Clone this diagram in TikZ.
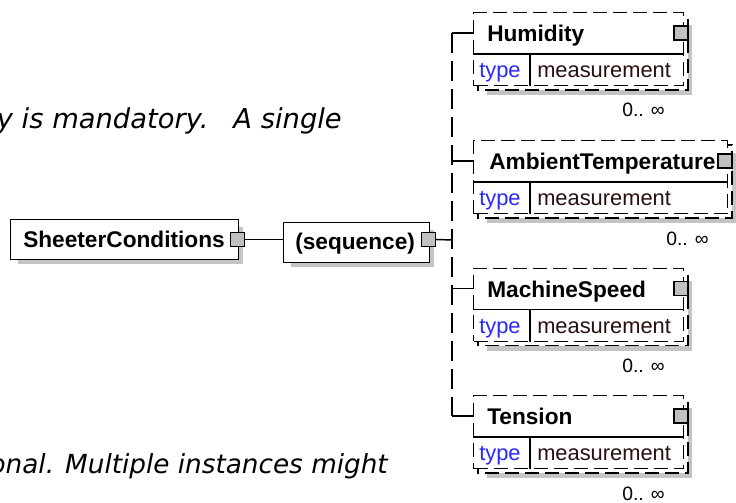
\documentclass[tikz,border=0pt]{standalone}
\usepackage{fontspec}
\setmainfont{Liberation Sans}
\newfontfamily\verdf{DejaVu Sans}
\definecolor{shadowgray}{RGB}{196,196,196}
\definecolor{pluggray}{RGB}{192,192,192}
\definecolor{typeblue}{RGB}{40,40,255}
\definecolor{valdark}{RGB}{40,16,16}
\begin{document}
\begin{tikzpicture}[x=0.75pt,y=-0.75pt,
  boxline/.style={draw=black, line width=1.1pt},
  namebox/.style={boxline, fill=white, inner sep=0pt, anchor=north west, minimum height=40*0.75pt},
  optbox/.style={boxline, fill=white, inner sep=0pt, anchor=north west, dash pattern=on 10.5pt off 4.5pt},
  backbox/.style={boxline, fill=white, dash pattern=on 10.5pt off 4.5pt},
  plug/.style={draw=black, line width=0.9pt, fill=pluggray, minimum size=14*0.75pt, inner sep=0pt},
  nametext/.style={font=\fontsize{17}{20}\selectfont\bfseries, inner sep=0pt, anchor=base west},
  typetext/.style={font=\fontsize{16.4}{19}\selectfont, text=typeblue, inner sep=0pt, anchor=base west},
  valtext/.style={font=\fontsize{16.4}{19}\selectfont, text=valdark, inner sep=0pt, anchor=base west},
  multtext/.style={font=\fontsize{14.5}{17}\selectfont, inner sep=0pt, anchor=base east},
  bgtext/.style={font=\verdf\itshape\fontsize{19.7}{24}\selectfont, inner sep=0pt, anchor=base east},
  wire/.style={draw=black, line width=1.1pt},
  dashwire/.style={wire, dash pattern=on 15pt off 6pt}
]
\useasboundingbox (0,0) rectangle (736,503);

% background text fragments
\node[bgtext, font=\verdf\itshape\fontsize{20.5}{24}\selectfont] (frag1) at (342,128) {y is mandatory.\hspace{10pt} A single};
\node[bgtext] (frag2) at (388,473) {onal. Multiple instances might};

% SheeterConditions
\fill[shadowgray] (18,227) rectangle (243,264);
\node[namebox, minimum width=228*0.75pt] (sc) at (10,219) {};
\node[nametext] (sclbl) at (23,247) {SheeterConditions};
\node[plug] (scplug) at (237.5,239.5) {};

% sequence
\fill[shadowgray] (291,230) rectangle (434,267);
\node[namebox, minimum width=146*0.75pt] (seq) at (283,222) {};
\node[nametext] (seqlbl) at (295,249) {(sequence)};
\node[plug] (seqplug) at (428.5,239.5) {};

\draw[wire] (scplug.east) -- (scplug.east -| seq.west);
\coordinate (jseq) at (452,240);
\draw[wire] (seqplug.east) -- (jseq);

% child elements
\foreach \nm/\lbl/\t/\r/\lx in {hum/Humidity/12/683/487, amb/AmbientTemperature/140/727/489, mach/MachineSpeed/267.5/683/487, ten/Tension/395/683/487} {
  \pgfmathsetmacro\w{(\r-473)*0.75}
  \fill[shadowgray] (487,\t+13) rectangle (\r+9,\t+83);
  \draw[backbox] (478,\t+5) rectangle (\r+5,\t+78);
  \node[optbox, minimum width=\w pt, minimum height=73*0.75pt] (\nm) at (473,\t) {};
  \coordinate (\nm hd) at (473,\t+42);
  \draw[boxline] (\nm hd) -- (\nm hd -| \nm.east);
  \coordinate (\nm td) at (530,\t+42);
  \draw[boxline] (\nm td) -- (\nm td |- \nm.south);
  \node[nametext] (\nm lbl) at (\lx,\t+29.5) {\lbl};
  \node[typetext] (\nm type) at (479,\t+65.5) {type};
  \node[valtext] (\nm val) at (537,\t+65.5) {measurement};
  \node[plug] (\nm plug) at (\r-2,\t+21) {};
  \node[multtext] (\nm mult) at (\r-18,\t+105) {0.. ∞};
  \coordinate (j\nm) at (452,\t+21);
  \draw[wire] (j\nm) -- (j\nm -| \nm.west);
}
\draw[dashwire] (jhum) -- (jten);
\end{tikzpicture}
\end{document}
